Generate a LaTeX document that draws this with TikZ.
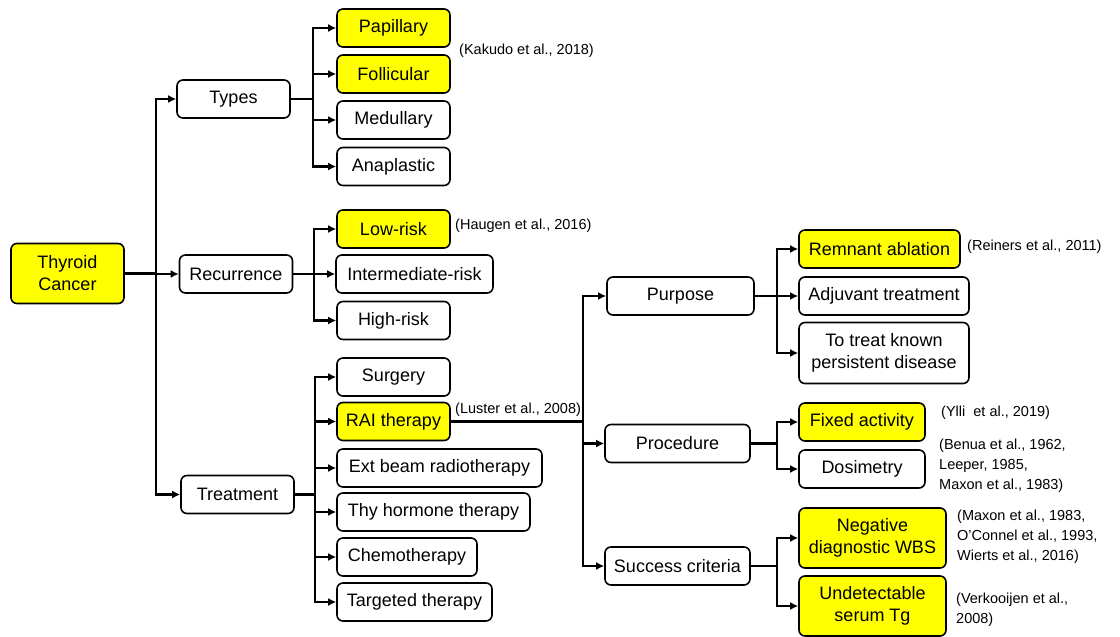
\documentclass[tikz,border=0pt]{standalone}
\usepackage{fontspec}
\setmainfont{Liberation Sans}
\usetikzlibrary{arrows.meta}
\definecolor{boxyellow}{RGB}{255,255,0}
\begin{document}
\begin{tikzpicture}[x=1pt,y=-1pt,
  box/.style={draw=black, line width=1.6pt, rounded corners=6pt, fill=white,
    align=center, inner sep=0pt, font=\fontsize{18}{22}\selectfont},
  hl/.style={fill=boxyellow},
  cite/.style={anchor=west, align=left, inner sep=0pt, font=\fontsize{14.5}{20}\selectfont},
  conn/.style={line width=2.2pt, -{Latex[length=8pt,width=8pt]}},
  plain/.style={line width=2.2pt}]
\useasboundingbox (0,0) rectangle (1120,637);
\fill[white] (0,0) rectangle (1120,637);

% level 0
\node[box,hl,minimum width=113pt,minimum height=60pt] (tc) at (67.5,273.5) {Thyroid\\Cancer};
% level 1
\node[box,minimum width=113pt,minimum height=38pt] (types) at (233.5,99) {Types};
\node[box,minimum width=113pt,minimum height=38pt] (rec) at (236,274) {Recurrence};
\node[box,minimum width=113pt,minimum height=38pt] (treat) at (237.5,494.5) {Treatment};
% types children
\node[box,hl,minimum width=113pt,minimum height=38pt] (pap) at (393.5,28) {Papillary};
\node[box,hl,minimum width=113pt,minimum height=38pt] (fol) at (393.5,74) {Follicular};
\node[box,minimum width=113pt,minimum height=38pt] (med) at (393.5,120) {Medullary};
\node[box,minimum width=113pt,minimum height=38pt] (ana) at (393.5,166.5) {Anaplastic};
% recurrence children
\node[box,hl,minimum width=113pt,minimum height=38pt] (low) at (393.5,229) {Low-risk};
\node[box,minimum width=157pt,minimum height=38pt] (inter) at (414.5,274) {Intermediate-risk};
\node[box,minimum width=113pt,minimum height=38pt] (high) at (393.5,320.5) {High-risk};
% treatment children
\node[box,minimum width=113pt,minimum height=38pt] (surg) at (393.5,377) {Surgery};
\node[box,hl,minimum width=113pt,minimum height=38pt] (rai) at (393.5,421.5) {RAI therapy};
\node[box,minimum width=205pt,minimum height=38pt] (ext) at (439.5,468) {Ext beam radiotherapy};
\node[box,minimum width=193pt,minimum height=38pt] (thy) at (433.5,512) {Thy hormone therapy};
\node[box,minimum width=140pt,minimum height=38pt] (chemo) at (407,557) {Chemotherapy};
\node[box,minimum width=155pt,minimum height=38pt] (targ) at (414.5,602) {Targeted therapy};
% RAI children
\node[box,minimum width=147pt,minimum height=38pt] (purp) at (680.5,296) {Purpose};
\node[box,minimum width=145pt,minimum height=38pt] (proc) at (677.5,443.5) {Procedure};
\node[box,minimum width=145pt,minimum height=38pt] (succ) at (677.5,566) {Success criteria};
% purpose children
\node[box,hl,minimum width=161pt,minimum height=38pt] (rem) at (879.5,249) {Remnant ablation};
\node[box,minimum width=170pt,minimum height=38pt] (adj) at (884,296) {Adjuvant treatment};
\node[box,minimum width=170pt,minimum height=61pt] (known) at (884,353) {To treat known\\persistent disease};
% procedure children
\node[box,hl,minimum width=126pt,minimum height=38pt] (fixed) at (862,422) {Fixed activity};
\node[box,minimum width=126pt,minimum height=38pt] (dos) at (862,469) {Dosimetry};
% success children
\node[box,hl,minimum width=147pt,minimum height=60pt] (neg) at (872.5,538) {Negative\\diagnostic WBS};
\node[box,hl,minimum width=147pt,minimum height=60pt] (und) at (872.5,606) {Undetectable\\serum Tg};

% citations
\node[cite] (ckak) at (459,51) {(Kakudo et al., 2018)};
\node[cite] (chau) at (455,226) {(Haugen et al., 2016)};
\node[cite] (clus) at (455,410) {(Luster et al., 2008)};
\node[cite] (crei) at (967,247) {(Reiners et al., 2011)};
\node[cite] (cyll) at (941,413) {(Ylli~ et al., 2019)};
\node[cite] (cben) at (939,466) {(Benua et al., 1962,\\Leeper, 1985,\\Maxon et al., 1983)};
\node[cite] (cmax) at (957,537) {(Maxon et al., 1983,\\O'Connel et al., 1993,\\Wierts et al., 2016)};
\node[cite] (cver) at (956,610) {(Verkooijen et al.,\\2008)};

% bus coordinates
\coordinate (b0) at (156,273.5);
\coordinate (b1) at (313,99);
\coordinate (b2) at (314,274);
\coordinate (b3) at (315,494.5);
\coordinate (b4) at (583,421.5);
\coordinate (b5) at (777,296);
\coordinate (b6) at (777,443.5);
\coordinate (b7) at (777,566);

% connectors
\draw[plain] (tc.east) -- (b0);
\foreach \c in {types,rec,treat} \draw[conn] (b0) |- (\c.west);
\draw[plain] (types.east) -- (b1);
\foreach \c in {pap,fol,med,ana} \draw[conn] (b1) |- (\c.west);
\draw[plain] (rec.east) -- (b2);
\foreach \c in {low,inter,high} \draw[conn] (b2) |- (\c.west);
\draw[plain] (treat.east) -- (b3);
\foreach \c in {surg,rai,ext,thy,chemo,targ} \draw[conn] (b3) |- (\c.west);
\draw[plain] (rai.east) -- (b4);
\foreach \c in {purp,proc,succ} \draw[conn] (b4) |- (\c.west);
\draw[plain] (purp.east) -- (b5);
\foreach \c in {rem,adj,known} \draw[conn] (b5) |- (\c.west);
\draw[plain] (proc.east) -- (b6);
\foreach \c in {fixed,dos} \draw[conn] (b6) |- (\c.west);
\draw[plain] (succ.east) -- (b7);
\foreach \c in {neg,und} \draw[conn] (b7) |- (\c.west);
\end{tikzpicture}
\end{document}
